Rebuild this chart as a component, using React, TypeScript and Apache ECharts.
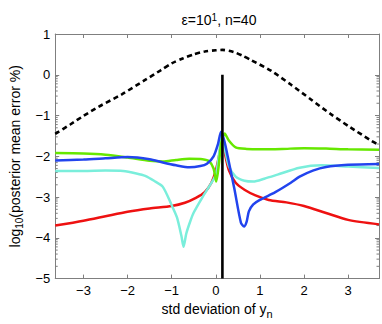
import React, { useEffect, useRef } from "react";
import * as echarts from "echarts";

const xMin = -3.64;
const xMax = 3.7;
const yMin = -5;
const yMax = 1;

const dashedCurve: [number, number][] = [
  [-3.64, -1.45], [-3.3, -1.22], [-3.0, -1.01], [-2.65, -0.78], [-2.13, -0.48],
  [-1.62, -0.14], [-1.25, 0.11], [-1.0, 0.28], [-0.75, 0.4], [-0.5, 0.5],
  [-0.25, 0.57], [0.0, 0.6], [0.15, 0.61], [0.4, 0.56], [0.6, 0.47], [0.8, 0.36],
  [1.25, 0.1], [1.7, -0.24], [2.15, -0.6], [2.6, -0.96], [3.05, -1.29], [3.5, -1.6], [3.7, -1.73],
];

const redCurve: [number, number][] = [
  [-3.64, -3.7], [-3.0, -3.58], [-2.5, -3.47], [-2.0, -3.36], [-1.5, -3.28], [-1.0, -3.22],
  [-0.7, -3.14], [-0.45, -3.02], [-0.25, -2.88], [-0.1, -2.65], [0.0, -2.35], [0.08, -1.95],
  [0.15, -1.52], [0.22, -2.0], [0.3, -2.35], [0.45, -2.65], [0.65, -2.82], [0.9, -2.96],
  [1.2, -3.07], [1.6, -3.13], [2.0, -3.22], [2.5, -3.39], [3.0, -3.56], [3.7, -3.67],
];

const cyanCurve: [number, number][] = [
  [-3.64, -2.36], [-3.0, -2.36], [-2.5, -2.35], [-2.1, -2.36], [-1.8, -2.42], [-1.6, -2.48],
  [-1.4, -2.6], [-1.2, -2.75], [-1.0, -3.2], [-0.88, -3.5], [-0.78, -3.95], [-0.73, -4.22],
  [-0.67, -3.9], [-0.58, -3.6], [-0.5, -3.38], [-0.3, -3.0], [-0.1, -2.65], [0.0, -2.45],
  [0.08, -1.9], [0.13, -1.45], [0.2, -1.8], [0.3, -2.25], [0.45, -2.5], [0.65, -2.6],
  [0.85, -2.62], [1.1, -2.55], [1.4, -2.45], [1.9, -2.28], [2.4, -2.22], [3.0, -2.25], [3.7, -2.29],
];

const greenCurve: [number, number][] = [
  [-3.64, -1.92], [-3.0, -1.93], [-2.5, -1.96], [-2.0, -2.03], [-1.5, -2.11], [-1.2, -2.13],
  [-0.9, -2.09], [-0.6, -2.06], [-0.3, -2.07], [-0.15, -2.12], [-0.05, -2.3], [0.01, -2.62],
  [0.07, -2.2], [0.12, -1.7], [0.2, -1.44], [0.3, -1.62], [0.45, -1.78], [0.7, -1.82],
  [1.0, -1.83], [1.5, -1.82], [2.0, -1.8], [2.5, -1.81], [3.0, -1.83], [3.7, -1.84],
];

const blueCurve: [number, number][] = [
  [-3.64, -2.1], [-3.0, -2.08], [-2.5, -2.05], [-2.0, -2.02], [-1.5, -2.07], [-1.2, -2.15],
  [-0.9, -2.22], [-0.6, -2.27], [-0.35, -2.24], [-0.2, -2.18], [-0.05, -2.0], [0.05, -1.7],
  [0.12, -1.4], [0.2, -1.65], [0.27, -2.0], [0.42, -2.79], [0.57, -3.63], [0.64, -3.72],
  [0.7, -3.6], [0.75, -3.35], [0.85, -3.18], [1.0, -3.07], [1.35, -2.88], [1.7, -2.65],
  [1.9, -2.5], [2.2, -2.35], [2.5, -2.26], [3.0, -2.21], [3.7, -2.19],
];

const markerLine: [number, number][] = [[0.15, 0], [0.15, -5]];

const minorDecades = [-5, -4, -3, -2, -1];
const minorMultipliers = [2, 3, 4, 5, 6, 7, 8, 9];

const FONT = "Liberation Sans, Arial, Helvetica, sans-serif";
const AXIS_GRAY = "#7f7f7f";

const fmt = (v: number) => {
  if (Math.abs(v - Math.round(v)) > 1e-6) return "";
  const r = Math.round(v);
  return r < 0 ? "\u2212" + -r : String(r);
};

export default function App() {
  const ref = useRef<HTMLDivElement>(null);
  useEffect(() => {
    if (!ref.current) return;
    const chart = echarts.init(ref.current, undefined, { renderer: "svg" });
    const minorVals: [number, number][] = [];
    minorDecades.forEach((d) =>
      minorMultipliers.forEach((k) => minorVals.push([0, d + Math.log10(k)]))
    );
    const lineCommon = {
      type: "line",
      showSymbol: false,
      symbol: "none",
      smooth: 0.25,
    };
    const axisCommon = {
      axisLine: { show: true, onZero: false, lineStyle: { color: AXIS_GRAY, width: 1 } },
      axisTick: { show: true, inside: true, length: 4, lineStyle: { color: AXIS_GRAY } },
      splitLine: { show: false },
    };
    chart.setOption({
      animation: false,
      title: {
        text: "\u03b5=10{sup|1}, n=40",
        left: 214,
        textAlign: "center",
        top: 7,
        textStyle: {
          fontFamily: FONT,
          fontSize: 14,
          fontWeight: "normal",
          color: "#000",
          rich: {
            sup: { fontFamily: FONT, fontSize: 10, verticalAlign: "top", padding: [0, 0, 6, 0], color: "#000" },
          },
        },
      },
      grid: { left: 49, right: 3, top: 34, bottom: 39, containLabel: false },
      xAxis: [
        {
          type: "value",
          min: xMin,
          max: xMax,
          splitNumber: 7,
          position: "bottom",
          ...axisCommon,
          axisLabel: {
            formatter: fmt,
            showMinLabel: false,
            showMaxLabel: false,
            fontFamily: FONT,
            fontSize: 13,
            color: "#000",
            margin: 5,
          },
          name: "std deviation of y{sub|n}",
          nameLocation: "middle",
          nameGap: 17,
          nameTextStyle: {
            fontFamily: FONT,
            fontSize: 14,
            color: "#000",
            rich: { sub: { fontFamily: FONT, fontSize: 11, padding: [10, 0, 0, 0], color: "#000" } },
          },
        },
        {
          type: "value",
          min: xMin,
          max: xMax,
          splitNumber: 7,
          position: "top",
          ...axisCommon,
          axisLabel: { show: false },
        },
      ],
      yAxis: [
        {
          type: "value",
          min: yMin,
          max: yMax,
          interval: 1,
          position: "left",
          ...axisCommon,
          axisLabel: { formatter: fmt, fontFamily: FONT, fontSize: 13, color: "#000", margin: 5 },
          name: "log{sub|10}(posterior mean error %)",
          nameLocation: "middle",
          nameRotate: 90,
          nameGap: 27,
          nameTextStyle: {
            fontFamily: FONT,
            fontSize: 14,
            color: "#000",
            rich: { sub: { fontFamily: FONT, fontSize: 10, padding: [9, 0, 0, 0], color: "#000" } },
          },
        },
        {
          type: "value",
          min: yMin,
          max: yMax,
          interval: 1,
          position: "right",
          ...axisCommon,
          axisLabel: { show: false },
        },
      ],
      series: [
        {
          type: "custom",
          silent: true,
          renderItem: (params: any, api: any) => {
            const y = api.coord([0, api.value(1)])[1];
            const cs = params.coordSys;
            const st = { stroke: AXIS_GRAY, lineWidth: 1 };
            return {
              type: "group",
              children: [
                { type: "line", shape: { x1: cs.x, y1: y, x2: cs.x + 2.5, y2: y }, style: st },
                { type: "line", shape: { x1: cs.x + cs.width - 2.5, y1: y, x2: cs.x + cs.width, y2: y }, style: st },
              ],
            };
          },
          data: minorVals,
          z: 1,
        },
        {
          ...lineCommon,
          data: dashedCurve,
          lineStyle: { color: "#000", width: 2.6, type: [5, 3.5] },
          z: 2,
        },
        { ...lineCommon, data: redCurve, lineStyle: { color: "#ee1111", width: 2.5 }, z: 3 },
        { ...lineCommon, data: cyanCurve, lineStyle: { color: "#7aeedb", width: 2.5 }, z: 3 },
        { ...lineCommon, data: greenCurve, lineStyle: { color: "#66e800", width: 2.5 }, z: 3 },
        { ...lineCommon, data: blueCurve, lineStyle: { color: "#2244ee", width: 2.5 }, z: 3 },
        { type: "line", showSymbol: false, symbol: "none", data: markerLine, lineStyle: { color: "#000", width: 2.6 }, z: 4 },
      ],
    });
    return () => chart.dispose();
  }, []);
  return (
    <div
      ref={ref}
      style={{ position: "absolute", left: 0, top: 0, width: 382, height: 324 }}
    />
  );
}
